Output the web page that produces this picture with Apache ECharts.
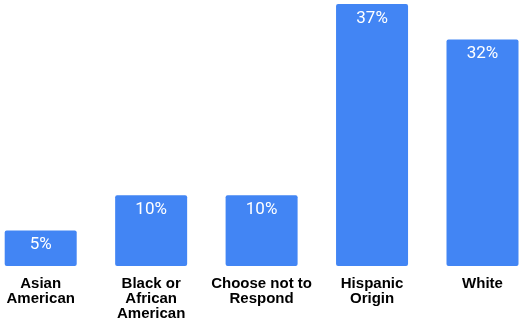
<!DOCTYPE html>
<html>
<head>
<meta charset="utf-8">
<script src="https://cdn.jsdelivr.net/npm/echarts@6/dist/echarts.min.js"></script>
<style>
  html, body { margin: 0; padding: 0; background: #fff; }
  #chart { width: 520px; height: 320px; }
</style>
</head>
<body>
<div id="chart"></div>
<script>
var categories = ["Asian\nAmerican", "Black or\nAfrican\nAmerican", "Choose not to\nRespond", "Hispanic\nOrigin", "White"];
var percents = [5, 10, 10, 37, 32];

var myChart = echarts.init(document.getElementById("chart"));

myChart.setOption({
    animation: false,
    grid: { left: 40.7, right: 37.5, top: 4, bottom: 54, outerBoundsMode: "none", containLabel: false },
    xAxis: {
        type: "category",
        data: categories,
        boundaryGap: false,
        axisLine: { show: false },
        axisTick: { show: false },
        axisLabel: {
            interval: 0,
            margin: 10,
            color: "#000",
            fontFamily: "Liberation Sans",
            fontWeight: "bold",
            fontSize: 15,
            lineHeight: 15
        }
    },
    yAxis: {
        type: "value",
        min: 0,
        max: 37,
        show: false,
        splitLine: { show: false }
    },
    series: [{
        type: "bar",
        data: percents,
        barWidth: 72,
        itemStyle: { color: "#4285F4", borderRadius: 2 },
        label: {
            show: true,
            position: "insideTop",
            distance: 6,
            formatter: "{c}%",
            color: "#fff",
            fontFamily: "Roboto",
            fontSize: 17
        }
    }]
});
</script>
</body>
</html>
